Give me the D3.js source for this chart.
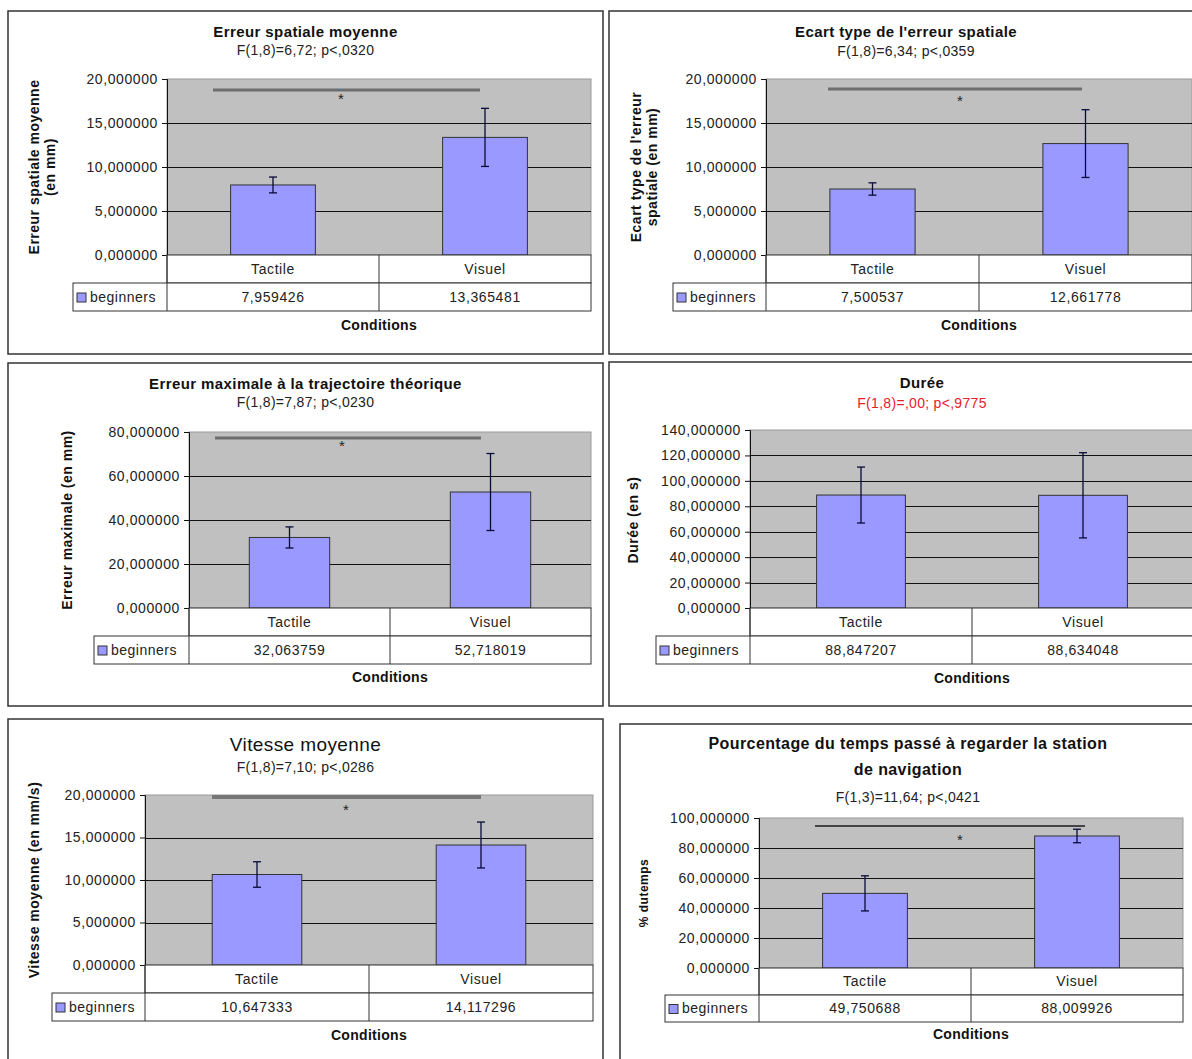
<!DOCTYPE html>
<html>
<head>
<meta charset="utf-8">
<script src="https://cdn.jsdelivr.net/npm/d3@7"></script>
<style>
  body { margin: 0; background: #fff; }
  svg { display: block; font-family: "Liberation Sans", Arial, sans-serif; }
</style>
</head>
<body>
<div id="chart"></div>
<script>
var categories = ["Tactile", "Visuel"];
var seriesName = "beginners";

var titles = [
    ["Erreur spatiale moyenne"],
    ["Ecart type de l'erreur spatiale"],
    ["Erreur maximale à la trajectoire théorique"],
    ["Durée"],
    ["Vitesse moyenne"],
    ["Pourcentage du temps passé à regarder la station", "de navigation"]
];
var stats = [
    "F(1,8)=6,72; p<,0320",
    "F(1,8)=6,34; p<,0359",
    "F(1,8)=7,87; p<,0230",
    "F(1,8)=,00; p<,9775",
    "F(1,8)=7,10; p<,0286",
    "F(1,3)=11,64; p<,0421"
];
var yLabels = [
    ["Erreur spatiale moyenne", "(en mm)"],
    ["Ecart type de l'erreur", "spatiale (en mm)"],
    ["Erreur maximale (en mm)"],
    ["Durée (en s)"],
    ["Vitesse moyenne (en mm/s)"],
    ["% dutemps"]
];
var tactileMeans = [7.959426, 7.500537, 32.063759, 88.847207, 10.647333, 49.750688];
var visuelMeans  = [13.365481, 12.661778, 52.718019, 88.634048, 14.117296, 88.009926];
var tactileErrors = [0.9, 0.7, 4.8, 22.0, 1.5, 11.7];
var visuelErrors  = [3.3, 3.85, 17.5, 33.5, 2.7, 4.5];
var yMax  = [20, 20, 80, 140, 20, 100];
var yStep = [5, 5, 20, 20, 5, 20];
var significant = [true, true, true, false, true, true];

// where each excel chart sits on the page
var layout = [
    {frame: [8, 11, 603, 354], plot: [167, 79, 591, 255], legendX: 73, rowH: 28,
     titleY: [33], subY: 51, titleSize: 15, condY: 326, ylabX: [35, 51], ylabY: 167,
     sig: {x0: 213, x1: 480, y: 90, sx: 341, sy: 100, w: 3, c: "#6e6e6e"}},
    {frame: [609, 11, 1203, 354], plot: [766, 79, 1192, 255], legendX: 673, rowH: 28,
     titleY: [33], subY: 52, titleSize: 15, condY: 326, ylabX: [637, 653], ylabY: 167,
     sig: {x0: 828, x1: 1082, y: 89, sx: 960, sy: 102, w: 3, c: "#6e6e6e"}},
    {frame: [8, 363, 603, 706], plot: [189, 432, 591, 608], legendX: 94, rowH: 28,
     titleY: [385], subY: 403, titleSize: 15, condY: 678, ylabX: [68], ylabY: 520,
     sig: {x0: 215, x1: 481, y: 438, sx: 342, sy: 447, w: 3, c: "#6e6e6e"}},
    {frame: [609, 362, 1235, 706], plot: [750, 430, 1194, 608], legendX: 656, rowH: 28,
     titleY: [384], subY: 404, titleSize: 15, condY: 679, ylabX: [634], ylabY: 520,
     subColor: "#e8202a", sig: null},
    {frame: [8, 719, 603, 1075], plot: [145, 795, 593, 965], legendX: 52, rowH: 28,
     titleY: [746], subY: 768, titleSize: 19, titleWeight: "normal", condY: 1036, ylabX: [35], ylabY: 880,
     sig: {x0: 212, x1: 481, y: 797, sx: 346, sy: 811, w: 4, c: "#777"}},
    {frame: [620, 724, 1196, 1075], plot: [759, 818, 1183, 968], legendX: 665, rowH: 27,
     titleY: [745, 771], subY: 798, titleSize: 16, condY: 1035, ylabX: [645], ylabY: 893,
     sig: {x0: 815, x1: 1085, y: 826, sx: 960, sy: 841, w: 2, c: "#444"}}
];

var fmt = d3.formatLocale({decimal: ",", thousands: " ", grouping: [3], currency: ["", ""]}).format(".6f");

var svg = d3.select("#chart").append("svg")
    .attr("width", 1192)
    .attr("height", 1059);

var barFill = "#9999ff",
    gridColor = "#111",
    tableColor = "#333";

function drawPanel(i) {
    var L = layout[i];
    var g = svg.append("g");
    var left = L.plot[0], top = L.plot[1], right = L.plot[2], bottom = L.plot[3];

    // chart frame
    g.append("rect")
        .attr("x", L.frame[0]).attr("y", L.frame[1])
        .attr("width", L.frame[2] - L.frame[0]).attr("height", L.frame[3] - L.frame[1])
        .attr("fill", "#fff").attr("stroke", "#333").attr("stroke-width", 1.5);

    var x = d3.scaleBand().domain(categories).range([left, right]);
    var xBar = d3.scaleBand().domain(categories).range([left, right]).paddingInner(0.6).paddingOuter(0.3);
    var y = d3.scaleLinear().domain([0, yMax[i]]).range([bottom, top]);
    var ticks = d3.range(0, yMax[i] + yStep[i] / 2, yStep[i]);

    g.append("rect")
        .attr("x", left).attr("y", top)
        .attr("width", right - left).attr("height", bottom - top)
        .attr("fill", "#c0c0c0").attr("stroke", "#9a9a9a");

    g.selectAll(".grid")
        .data(ticks.slice(1, -1))
        .enter().append("line")
        .attr("x1", left).attr("x2", right)
        .attr("y1", function (d) { return Math.round(y(d)) + 0.5; })
        .attr("y2", function (d) { return Math.round(y(d)) + 0.5; })
        .attr("stroke", gridColor).attr("stroke-width", 1);

    var axis = d3.axisLeft(y).tickValues(ticks).tickSize(5).tickPadding(4).tickFormat(fmt);
    var ax = g.append("g").attr("transform", "translate(" + left + ",0)").call(axis);
    ax.select(".domain").attr("stroke", gridColor);
    ax.selectAll(".tick line").attr("stroke", gridColor);
    ax.selectAll("text")
        .attr("font-size", 14).attr("fill", "#222")
        .attr("letter-spacing", 0.6)
        .attr("font-family", "Liberation Sans, Arial, sans-serif");

    var values = [tactileMeans[i], visuelMeans[i]];
    var errs = [tactileErrors[i], visuelErrors[i]];

    g.selectAll(".bar")
        .data(categories)
        .enter().append("rect")
        .attr("class", "bar")
        .attr("x", function (d) { return xBar(d); })
        .attr("width", xBar.bandwidth())
        .attr("y", function (d, k) { return y(values[k]); })
        .attr("height", function (d, k) { return bottom - y(values[k]); })
        .attr("fill", barFill).attr("stroke", "#333").attr("stroke-width", 1);

    // error bars
    var eb = g.selectAll(".err")
        .data(categories)
        .enter().append("g")
        .attr("class", "err")
        .attr("stroke", "#0a0a3a").attr("stroke-width", 1.3);
    eb.append("line")
        .attr("x1", function (d) { return x(d) + x.bandwidth() / 2; })
        .attr("x2", function (d) { return x(d) + x.bandwidth() / 2; })
        .attr("y1", function (d, k) { return y(values[k] + errs[k]); })
        .attr("y2", function (d, k) { return y(values[k] - errs[k]); });
    [1, -1].forEach(function (s) {
        eb.append("line")
            .attr("x1", function (d) { return x(d) + x.bandwidth() / 2 - 4; })
            .attr("x2", function (d) { return x(d) + x.bandwidth() / 2 + 4; })
            .attr("y1", function (d, k) { return y(values[k] + s * errs[k]); })
            .attr("y2", function (d, k) { return y(values[k] + s * errs[k]); });
    });

    // data table under the plot
    var rowH = L.rowH;
    var t = g.append("g").attr("fill", "none").attr("stroke", tableColor).attr("stroke-width", 1);
    t.append("rect").attr("x", left).attr("y", bottom).attr("width", right - left).attr("height", rowH)
        .attr("fill", "#fff");
    t.append("rect").attr("x", L.legendX).attr("y", bottom + rowH).attr("width", right - L.legendX).attr("height", rowH)
        .attr("fill", "#fff");
    t.append("line").attr("x1", left).attr("x2", left).attr("y1", bottom).attr("y2", bottom + 2 * rowH);
    t.append("line")
        .attr("x1", x(categories[1])).attr("x2", x(categories[1]))
        .attr("y1", bottom).attr("y2", bottom + 2 * rowH);

    g.selectAll(".cat")
        .data(categories)
        .enter().append("text")
        .attr("x", function (d) { return x(d) + x.bandwidth() / 2; })
        .attr("y", bottom + rowH / 2 + 1)
        .attr("text-anchor", "middle").attr("dominant-baseline", "middle")
        .attr("font-size", 14).attr("letter-spacing", 0.6).attr("fill", "#222")
        .text(function (d) { return d; });

    g.selectAll(".val")
        .data(categories)
        .enter().append("text")
        .attr("x", function (d) { return x(d) + x.bandwidth() / 2; })
        .attr("y", bottom + rowH * 1.5 + 1)
        .attr("text-anchor", "middle").attr("dominant-baseline", "middle")
        .attr("font-size", 14).attr("letter-spacing", 0.6).attr("fill", "#222")
        .text(function (d, k) { return fmt(values[k]); });

    g.append("rect")
        .attr("x", L.legendX + 4).attr("y", bottom + rowH * 1.5 - 4)
        .attr("width", 9).attr("height", 9)
        .attr("fill", barFill).attr("stroke", "#333");
    g.append("text")
        .attr("x", L.legendX + 17).attr("y", bottom + rowH * 1.5 + 1)
        .attr("dominant-baseline", "middle")
        .attr("font-size", 14).attr("letter-spacing", 0.5).attr("fill", "#222")
        .text(seriesName);

    // titles
    var cx = (L.frame[0] + L.frame[2]) / 2;
    titles[i].forEach(function (line, k) {
        g.append("text")
            .attr("x", cx).attr("y", L.titleY[k])
            .attr("text-anchor", "middle").attr("dominant-baseline", "middle")
            .attr("font-size", L.titleSize)
            .attr("font-weight", L.titleWeight || "bold")
            .attr("letter-spacing", 0.4)
            .attr("fill", "#111")
            .text(line);
    });
    g.append("text")
        .attr("x", cx).attr("y", L.subY)
        .attr("text-anchor", "middle").attr("dominant-baseline", "middle")
        .attr("font-size", 14).attr("letter-spacing", 0.3)
        .attr("fill", L.subColor || "#222")
        .text(stats[i]);

    g.append("text")
        .attr("x", (left + right) / 2).attr("y", L.condY)
        .attr("text-anchor", "middle").attr("dominant-baseline", "middle")
        .attr("font-size", 14).attr("font-weight", "bold").attr("letter-spacing", 0.3)
        .attr("fill", "#111")
        .text("Conditions");

    yLabels[i].forEach(function (line, k) {
        g.append("text")
            .attr("transform", "translate(" + L.ylabX[k] + "," + L.ylabY + ") rotate(-90)")
            .attr("text-anchor", "middle").attr("dominant-baseline", "middle")
            .attr("font-size", i === 5 ? 12 : 14).attr("font-weight", "bold").attr("letter-spacing", 0.5)
            .attr("fill", "#111")
            .text(line);
    });

    if (significant[i] && L.sig) {
        g.append("line")
            .attr("x1", L.sig.x0).attr("x2", L.sig.x1)
            .attr("y1", L.sig.y).attr("y2", L.sig.y)
            .attr("stroke", L.sig.c).attr("stroke-width", L.sig.w);
        g.append("text")
            .attr("x", L.sig.sx).attr("y", L.sig.sy)
            .attr("text-anchor", "middle").attr("dominant-baseline", "middle")
            .attr("font-size", 15).attr("fill", "#222")
            .text("*");
    }
}

d3.range(6).forEach(drawPanel);
</script>
</body>
</html>
